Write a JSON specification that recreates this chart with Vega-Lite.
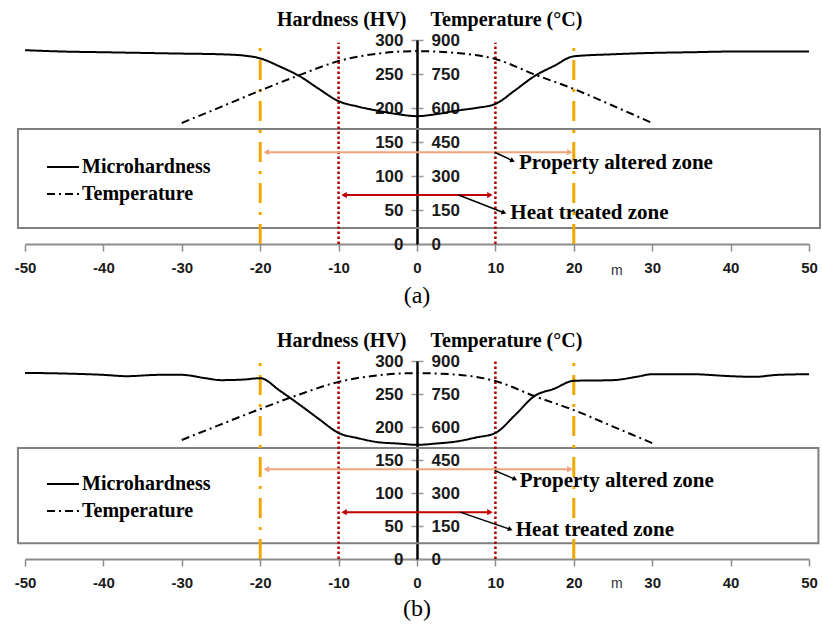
{
  "$schema": "https://vega.github.io/schema/vega-lite/v6.json",
  "background": "white",
  "padding": {"left": 14, "top": 9, "right": 0, "bottom": 0},
  "config": {"view": {"stroke": null}, "axis": {"grid": false, "labelOverlap": false}},
  "spacing": 117,
  "bounds": "flush",
  "resolve": {"scale": {"strokeDash": "independent"}, "legend": {"strokeDash": "independent"}},
  "vconcat": [
    {
      "width": 784,
      "height": 204,
      "title": {"text": "(a)", "orient": "bottom", "font": "Liberation Serif", "fontSize": 24, "fontWeight": "normal", "color": "black", "offset": 6},
      "layer": [
        {
          "layer": [
            {
              "data": {"values": [{"x": -50.9, "x2": 51.4, "y": 23.5, "y2": 169}]},
              "mark": {"type": "rect", "fillOpacity": 0, "stroke": "#808080", "strokeWidth": 2},
              "encoding": {
                "x": {"field": "x", "type": "quantitative", "scale": {"domain": [-50, 50], "nice": false, "zero": false},
                  "axis": {"orient": "bottom", "values": [-50, -40, -30, -20, -10, 0, 10, 20, 30, 40, 50], "tickCount": 11, "labelExpr": "toString(datum.value)", "labelFlush": false, "labelOverlap": false, "title": null, "domainColor": "#8c8c8c", "domainWidth": 2, "tickColor": "#8c8c8c", "tickSize": 7, "tickWidth": 1.5, "labelPadding": 9, "labelFont": "Liberation Sans", "labelFontSize": 15, "labelFontWeight": "bold", "labelColor": "#1a1a1a"}},
                "x2": {"field": "x2"},
                "y": {"field": "y", "type": "quantitative", "scale": {"domain": [0, 300], "nice": false, "zero": false},
                  "axis": {"orient": "left", "offset": -392, "values": [0, 50, 100, 150, 200, 250, 300], "tickCount": 7, "labelOverlap": false, "labelFlush": false, "title": "Hardness (HV)", "titleAngle": 0, "titleX": -11, "titleY": -21, "titleAlign": "right", "titleBaseline": "middle", "titleFont": "Liberation Serif", "titleFontSize": 20, "titleFontWeight": "bold", "titleColor": "black", "domainColor": "black", "domainWidth": 2, "tickColor": "#999999", "tickSize": 6, "tickWidth": 1.5, "labelPadding": 8, "labelFont": "Liberation Sans", "labelFontSize": 17, "labelFontWeight": "bold", "labelColor": "#1a1a1a"}},
                "y2": {"field": "y2"}
              }
            },
            {
              "data": {"values": [{"x": -20}, {"x": 20}]},
              "mark": {"type": "rule", "color": "#F0A800", "strokeWidth": 3, "strokeDash": [20, 9, 3, 9]},
              "encoding": {
                "x": {"field": "x", "type": "quantitative"},
                "y": {"datum": 0, "type": "quantitative"},
                "y2": {"datum": 295}
              }
            },
            {
              "data": {"values": [{"x": -10}, {"x": 10}]},
              "mark": {"type": "rule", "color": "#B00000", "strokeWidth": 2.5, "strokeDash": [2.5, 2.5]},
              "encoding": {
                "x": {"field": "x", "type": "quantitative"},
                "y": {"datum": 0, "type": "quantitative"},
                "y2": {"datum": 296}
              }
            },
            {
              "data": {"values": [{"x": -19.4, "x2": 19.6, "y": 135}]},
              "mark": {"type": "rule", "color": "#F0A47C", "strokeWidth": 2},
              "encoding": {
                "x": {"field": "x", "type": "quantitative"},
                "x2": {"field": "x2"},
                "y": {"field": "y", "type": "quantitative"}
              }
            },
            {
              "data": {"values": [{"x": -19.2, "y": 135}]},
              "mark": {"type": "point", "shape": "triangle-left", "filled": true, "color": "#F0A47C", "size": 40, "opacity": 1},
              "encoding": {"x": {"field": "x", "type": "quantitative"}, "y": {"field": "y", "type": "quantitative"}}
            },
            {
              "data": {"values": [{"x": 19.5, "y": 135}]},
              "mark": {"type": "point", "shape": "triangle-right", "filled": true, "color": "#F0A47C", "size": 40, "opacity": 1},
              "encoding": {"x": {"field": "x", "type": "quantitative"}, "y": {"field": "y", "type": "quantitative"}}
            },
            {
              "data": {"values": [{"x": -9.4, "x2": 9.4, "y": 72}]},
              "mark": {"type": "rule", "color": "#C00000", "strokeWidth": 2},
              "encoding": {
                "x": {"field": "x", "type": "quantitative"},
                "x2": {"field": "x2"},
                "y": {"field": "y", "type": "quantitative"}
              }
            },
            {
              "data": {"values": [{"x": -9.3, "y": 72}]},
              "mark": {"type": "point", "shape": "triangle-left", "filled": true, "color": "#C00000", "size": 40, "opacity": 1},
              "encoding": {"x": {"field": "x", "type": "quantitative"}, "y": {"field": "y", "type": "quantitative"}}
            },
            {
              "data": {"values": [{"x": 9.3, "y": 72}]},
              "mark": {"type": "point", "shape": "triangle-right", "filled": true, "color": "#C00000", "size": 40, "opacity": 1},
              "encoding": {"x": {"field": "x", "type": "quantitative"}, "y": {"field": "y", "type": "quantitative"}}
            },
            {
              "data": {"values": [{"x": 9.9, "y": 135, "x2": 12.2, "y2": 122.5}, {"x": 5.3, "y": 72, "x2": 11.1, "y2": 46}]},
              "mark": {"type": "rule", "color": "black", "strokeWidth": 1.5},
              "encoding": {
                "x": {"field": "x", "type": "quantitative"},
                "y": {"field": "y", "type": "quantitative"},
                "x2": {"field": "x2"},
                "y2": {"field": "y2"}
              }
            },
            {
              "data": {"values": [{"x": 12.2, "y": 122.5}]},
              "mark": {"type": "point", "shape": "triangle-right", "filled": true, "color": "black", "size": 30, "opacity": 1, "angle": 25},
              "encoding": {"x": {"field": "x", "type": "quantitative"}, "y": {"field": "y", "type": "quantitative"}}
            },
            {
              "data": {"values": [{"x": 11.1, "y": 46}]},
              "mark": {"type": "point", "shape": "triangle-right", "filled": true, "color": "black", "size": 30, "opacity": 1, "angle": 21},
              "encoding": {"x": {"field": "x", "type": "quantitative"}, "y": {"field": "y", "type": "quantitative"}}
            },
            {
              "data": {"values": [{"x": 13.0, "y": 119, "label": "Property altered zone"}, {"x": 11.9, "y": 45, "label": "Heat treated zone"}]},
              "mark": {"type": "text", "align": "left", "baseline": "middle", "font": "Liberation Serif", "fontSize": 21, "fontWeight": "bold", "color": "black"},
              "encoding": {
                "x": {"field": "x", "type": "quantitative"},
                "y": {"field": "y", "type": "quantitative"},
                "text": {"field": "label"}
              }
            },
            {
              "data": {"values": [{"x": 25.5, "y": -40, "label": "m"}]},
              "mark": {"type": "text", "align": "center", "baseline": "middle", "font": "Liberation Sans", "fontSize": 14, "color": "#333333"},
              "encoding": {
                "x": {"field": "x", "type": "quantitative"},
                "y": {"field": "y", "type": "quantitative"},
                "text": {"field": "label"}
              }
            },
            {
              "data": {"values": [
                {"x": -50, "hv": 285, "s": "Microhardness"}, {"x": -45, "hv": 283, "s": "Microhardness"}, {"x": -40, "hv": 282, "s": "Microhardness"},
                {"x": -35, "hv": 281, "s": "Microhardness"}, {"x": -30, "hv": 280, "s": "Microhardness"}, {"x": -25, "hv": 279, "s": "Microhardness"},
                {"x": -22, "hv": 277, "s": "Microhardness"}, {"x": -20, "hv": 273, "s": "Microhardness"}, {"x": -17.5, "hv": 261, "s": "Microhardness"},
                {"x": -15, "hv": 247, "s": "Microhardness"}, {"x": -12.5, "hv": 228, "s": "Microhardness"}, {"x": -10, "hv": 210, "s": "Microhardness"},
                {"x": -7.5, "hv": 202, "s": "Microhardness"}, {"x": -5, "hv": 196, "s": "Microhardness"}, {"x": -2.5, "hv": 191, "s": "Microhardness"},
                {"x": 0, "hv": 188, "s": "Microhardness"}, {"x": 2.5, "hv": 191, "s": "Microhardness"}, {"x": 5, "hv": 196, "s": "Microhardness"},
                {"x": 7.5, "hv": 200, "s": "Microhardness"}, {"x": 10, "hv": 206, "s": "Microhardness"}, {"x": 12.5, "hv": 226, "s": "Microhardness"},
                {"x": 15, "hv": 247, "s": "Microhardness"}, {"x": 17.5, "hv": 262, "s": "Microhardness"}, {"x": 20, "hv": 276, "s": "Microhardness"},
                {"x": 25, "hv": 279, "s": "Microhardness"}, {"x": 30, "hv": 281, "s": "Microhardness"}, {"x": 35, "hv": 282, "s": "Microhardness"},
                {"x": 40, "hv": 283, "s": "Microhardness"}, {"x": 45, "hv": 283, "s": "Microhardness"}, {"x": 50, "hv": 283, "s": "Microhardness"}
              ]},
              "mark": {"type": "line", "color": "black", "strokeWidth": 2, "interpolate": "monotone"},
              "encoding": {
                "x": {"field": "x", "type": "quantitative"},
                "y": {"field": "hv", "type": "quantitative"},
                "strokeDash": {"field": "s", "type": "nominal", "scale": {"domain": ["Microhardness", "Temperature"], "range": [[1, 0], [8, 4, 2, 4]]},
                  "legend": {"orient": "none", "legendX": 21, "legendY": 110, "title": null, "padding": 0, "symbolType": "stroke", "symbolSize": 1024, "symbolStrokeWidth": 2, "symbolStrokeColor": "black", "labelFont": "Liberation Serif", "labelFontSize": 20, "labelFontWeight": "bold", "labelColor": "black", "rowPadding": -4, "labelOffset": 2}}
              }
            }
          ]
        },
        {
          "data": {"values": [
            {"x": -30, "t": 534, "s": "Temperature"}, {"x": -25, "t": 605, "s": "Temperature"}, {"x": -20, "t": 677, "s": "Temperature"},
            {"x": -15, "t": 745, "s": "Temperature"}, {"x": -10, "t": 807, "s": "Temperature"}, {"x": -5, "t": 840, "s": "Temperature"},
            {"x": 0, "t": 851, "s": "Temperature"}, {"x": 5, "t": 843, "s": "Temperature"}, {"x": 10, "t": 816, "s": "Temperature"},
            {"x": 15, "t": 748, "s": "Temperature"}, {"x": 20, "t": 684, "s": "Temperature"}, {"x": 25, "t": 610, "s": "Temperature"},
            {"x": 30, "t": 534, "s": "Temperature"}
          ]},
          "mark": {"type": "line", "color": "black", "strokeWidth": 2, "interpolate": "monotone"},
          "encoding": {
            "x": {"field": "x", "type": "quantitative"},
            "y": {"field": "t", "type": "quantitative", "scale": {"domain": [0, 900], "nice": false, "zero": false},
              "axis": {"orient": "right", "offset": -392, "values": [0, 150, 300, 450, 600, 750, 900], "tickCount": 7, "labelOverlap": false, "labelFlush": false, "title": "Temperature (°C)", "titleAngle": 0, "titleX": 13, "titleY": -21, "titleAlign": "left", "titleBaseline": "middle", "titleFont": "Liberation Serif", "titleFontSize": 20, "titleFontWeight": "bold", "titleColor": "black", "domainColor": "black", "domainWidth": 2, "tickColor": "#999999", "tickSize": 6, "tickWidth": 1.5, "labelPadding": 8, "labelFont": "Liberation Sans", "labelFontSize": 17, "labelFontWeight": "bold", "labelColor": "#1a1a1a"}},
            "strokeDash": {"field": "s", "type": "nominal", "scale": {"domain": ["Microhardness", "Temperature"], "range": [[1, 0], [8, 4, 2, 4]]},
              "legend": {"orient": "none", "legendX": 21, "legendY": 110, "title": null, "padding": 0, "symbolType": "stroke", "symbolSize": 1024, "symbolStrokeWidth": 2, "symbolStrokeColor": "black", "labelFont": "Liberation Serif", "labelFontSize": 20, "labelFontWeight": "bold", "labelColor": "black", "rowPadding": -4, "labelOffset": 2}}
          }
        }
      ],
      "resolve": {"scale": {"y": "independent"}}
    },
    {
      "width": 784,
      "height": 198,
      "title": {"text": "(b)", "orient": "bottom", "font": "Liberation Serif", "fontSize": 24, "fontWeight": "normal", "color": "black", "offset": 6},
      "layer": [
        {
          "layer": [
            {
              "data": {"values": [{"x": -50.9, "x2": 51.2, "y": 24, "y2": 168}]},
              "mark": {"type": "rect", "fillOpacity": 0, "stroke": "#808080", "strokeWidth": 2},
              "encoding": {
                "x": {"field": "x", "type": "quantitative", "scale": {"domain": [-50, 50], "nice": false, "zero": false},
                  "axis": {"orient": "bottom", "values": [-50, -40, -30, -20, -10, 0, 10, 20, 30, 40, 50], "tickCount": 11, "labelExpr": "toString(datum.value)", "labelFlush": false, "labelOverlap": false, "title": null, "domainColor": "#8c8c8c", "domainWidth": 2, "tickColor": "#8c8c8c", "tickSize": 7, "tickWidth": 1.5, "labelPadding": 9, "labelFont": "Liberation Sans", "labelFontSize": 15, "labelFontWeight": "bold", "labelColor": "#1a1a1a"}},
                "x2": {"field": "x2"},
                "y": {"field": "y", "type": "quantitative", "scale": {"domain": [0, 300], "nice": false, "zero": false},
                  "axis": {"orient": "left", "offset": -392, "values": [0, 50, 100, 150, 200, 250, 300], "tickCount": 7, "labelOverlap": false, "labelFlush": false, "title": "Hardness (HV)", "titleAngle": 0, "titleX": -11, "titleY": -21, "titleAlign": "right", "titleBaseline": "middle", "titleFont": "Liberation Serif", "titleFontSize": 20, "titleFontWeight": "bold", "titleColor": "black", "domainColor": "black", "domainWidth": 2, "tickColor": "#999999", "tickSize": 6, "tickWidth": 1.5, "labelPadding": 8, "labelFont": "Liberation Sans", "labelFontSize": 17, "labelFontWeight": "bold", "labelColor": "#1a1a1a"}},
                "y2": {"field": "y2"}
              }
            },
            {
              "data": {"values": [{"x": -20}, {"x": 20}]},
              "mark": {"type": "rule", "color": "#F0A800", "strokeWidth": 3, "strokeDash": [20, 9, 3, 9]},
              "encoding": {
                "x": {"field": "x", "type": "quantitative"},
                "y": {"datum": 0, "type": "quantitative"},
                "y2": {"datum": 299}
              }
            },
            {
              "data": {"values": [{"x": -10}, {"x": 10}]},
              "mark": {"type": "rule", "color": "#B00000", "strokeWidth": 2.5, "strokeDash": [2.5, 2.5]},
              "encoding": {
                "x": {"field": "x", "type": "quantitative"},
                "y": {"datum": 0, "type": "quantitative"},
                "y2": {"datum": 300}
              }
            },
            {
              "data": {"values": [{"x": -19.4, "x2": 19.6, "y": 136}]},
              "mark": {"type": "rule", "color": "#F0A47C", "strokeWidth": 2},
              "encoding": {
                "x": {"field": "x", "type": "quantitative"},
                "x2": {"field": "x2"},
                "y": {"field": "y", "type": "quantitative"}
              }
            },
            {
              "data": {"values": [{"x": -19.2, "y": 136}]},
              "mark": {"type": "point", "shape": "triangle-left", "filled": true, "color": "#F0A47C", "size": 40, "opacity": 1},
              "encoding": {"x": {"field": "x", "type": "quantitative"}, "y": {"field": "y", "type": "quantitative"}}
            },
            {
              "data": {"values": [{"x": 19.5, "y": 136}]},
              "mark": {"type": "point", "shape": "triangle-right", "filled": true, "color": "#F0A47C", "size": 40, "opacity": 1},
              "encoding": {"x": {"field": "x", "type": "quantitative"}, "y": {"field": "y", "type": "quantitative"}}
            },
            {
              "data": {"values": [{"x": -9.4, "x2": 9.4, "y": 71}]},
              "mark": {"type": "rule", "color": "#C00000", "strokeWidth": 2},
              "encoding": {
                "x": {"field": "x", "type": "quantitative"},
                "x2": {"field": "x2"},
                "y": {"field": "y", "type": "quantitative"}
              }
            },
            {
              "data": {"values": [{"x": -9.3, "y": 71}]},
              "mark": {"type": "point", "shape": "triangle-left", "filled": true, "color": "#C00000", "size": 40, "opacity": 1},
              "encoding": {"x": {"field": "x", "type": "quantitative"}, "y": {"field": "y", "type": "quantitative"}}
            },
            {
              "data": {"values": [{"x": 9.3, "y": 71}]},
              "mark": {"type": "point", "shape": "triangle-right", "filled": true, "color": "#C00000", "size": 40, "opacity": 1},
              "encoding": {"x": {"field": "x", "type": "quantitative"}, "y": {"field": "y", "type": "quantitative"}}
            },
            {
              "data": {"values": [{"x": 9.9, "y": 134, "x2": 12.5, "y2": 121}, {"x": 5.5, "y": 71, "x2": 11.9, "y2": 45}]},
              "mark": {"type": "rule", "color": "black", "strokeWidth": 1.5},
              "encoding": {
                "x": {"field": "x", "type": "quantitative"},
                "y": {"field": "y", "type": "quantitative"},
                "x2": {"field": "x2"},
                "y2": {"field": "y2"}
              }
            },
            {
              "data": {"values": [{"x": 12.5, "y": 121}]},
              "mark": {"type": "point", "shape": "triangle-right", "filled": true, "color": "black", "size": 30, "opacity": 1, "angle": 25},
              "encoding": {"x": {"field": "x", "type": "quantitative"}, "y": {"field": "y", "type": "quantitative"}}
            },
            {
              "data": {"values": [{"x": 11.9, "y": 45}]},
              "mark": {"type": "point", "shape": "triangle-right", "filled": true, "color": "black", "size": 30, "opacity": 1, "angle": 21},
              "encoding": {"x": {"field": "x", "type": "quantitative"}, "y": {"field": "y", "type": "quantitative"}}
            },
            {
              "data": {"values": [{"x": 13.1, "y": 118, "label": "Property altered zone"}, {"x": 12.6, "y": 44, "label": "Heat treated zone"}]},
              "mark": {"type": "text", "align": "left", "baseline": "middle", "font": "Liberation Serif", "fontSize": 21, "fontWeight": "bold", "color": "black"},
              "encoding": {
                "x": {"field": "x", "type": "quantitative"},
                "y": {"field": "y", "type": "quantitative"},
                "text": {"field": "label"}
              }
            },
            {
              "data": {"values": [{"x": 25.5, "y": -38, "label": "m"}]},
              "mark": {"type": "text", "align": "center", "baseline": "middle", "font": "Liberation Sans", "fontSize": 14, "color": "#333333"},
              "encoding": {
                "x": {"field": "x", "type": "quantitative"},
                "y": {"field": "y", "type": "quantitative"},
                "text": {"field": "label"}
              }
            },
            {
              "data": {"values": [
                {"x": -50, "hv": 282, "s": "Microhardness"}, {"x": -45, "hv": 281, "s": "Microhardness"}, {"x": -40, "hv": 279, "s": "Microhardness"},
                {"x": -37, "hv": 277, "s": "Microhardness"}, {"x": -33, "hv": 279, "s": "Microhardness"}, {"x": -30, "hv": 279, "s": "Microhardness"},
                {"x": -27, "hv": 274, "s": "Microhardness"}, {"x": -25, "hv": 271, "s": "Microhardness"}, {"x": -22, "hv": 272, "s": "Microhardness"},
                {"x": -20, "hv": 274, "s": "Microhardness"}, {"x": -17.5, "hv": 255, "s": "Microhardness"}, {"x": -15, "hv": 234, "s": "Microhardness"},
                {"x": -12.5, "hv": 212, "s": "Microhardness"}, {"x": -10, "hv": 191, "s": "Microhardness"}, {"x": -7.5, "hv": 183, "s": "Microhardness"},
                {"x": -5, "hv": 177, "s": "Microhardness"}, {"x": -2.5, "hv": 175, "s": "Microhardness"}, {"x": 0, "hv": 173, "s": "Microhardness"},
                {"x": 2.5, "hv": 175, "s": "Microhardness"}, {"x": 5, "hv": 178, "s": "Microhardness"}, {"x": 7.5, "hv": 184, "s": "Microhardness"},
                {"x": 10, "hv": 191, "s": "Microhardness"}, {"x": 12.5, "hv": 218, "s": "Microhardness"}, {"x": 15, "hv": 247, "s": "Microhardness"},
                {"x": 17.5, "hv": 258, "s": "Microhardness"}, {"x": 20, "hv": 270, "s": "Microhardness"}, {"x": 25, "hv": 271, "s": "Microhardness"},
                {"x": 28, "hv": 276, "s": "Microhardness"}, {"x": 30, "hv": 280, "s": "Microhardness"}, {"x": 35, "hv": 280, "s": "Microhardness"},
                {"x": 40, "hv": 277, "s": "Microhardness"}, {"x": 43, "hv": 276, "s": "Microhardness"}, {"x": 46, "hv": 279, "s": "Microhardness"},
                {"x": 50, "hv": 280, "s": "Microhardness"}
              ]},
              "mark": {"type": "line", "color": "black", "strokeWidth": 2, "interpolate": "monotone"},
              "encoding": {
                "x": {"field": "x", "type": "quantitative"},
                "y": {"field": "hv", "type": "quantitative"},
                "strokeDash": {"field": "s", "type": "nominal", "scale": {"domain": ["Microhardness", "Temperature"], "range": [[1, 0], [8, 4, 2, 4]]},
                  "legend": {"orient": "none", "legendX": 21, "legendY": 106, "title": null, "padding": 0, "symbolType": "stroke", "symbolSize": 1024, "symbolStrokeWidth": 2, "symbolStrokeColor": "black", "labelFont": "Liberation Serif", "labelFontSize": 20, "labelFontWeight": "bold", "labelColor": "black", "rowPadding": -5, "labelOffset": 2}}
              }
            }
          ]
        },
        {
          "data": {"values": [
            {"x": -30, "t": 541, "s": "Temperature"}, {"x": -25, "t": 612, "s": "Temperature"}, {"x": -20, "t": 682, "s": "Temperature"},
            {"x": -15, "t": 748, "s": "Temperature"}, {"x": -10, "t": 805, "s": "Temperature"}, {"x": -5, "t": 835, "s": "Temperature"},
            {"x": 0, "t": 845, "s": "Temperature"}, {"x": 5, "t": 838, "s": "Temperature"}, {"x": 10, "t": 809, "s": "Temperature"},
            {"x": 15, "t": 740, "s": "Temperature"}, {"x": 20, "t": 677, "s": "Temperature"}, {"x": 25, "t": 602, "s": "Temperature"},
            {"x": 30, "t": 527, "s": "Temperature"}
          ]},
          "mark": {"type": "line", "color": "black", "strokeWidth": 2, "interpolate": "monotone"},
          "encoding": {
            "x": {"field": "x", "type": "quantitative"},
            "y": {"field": "t", "type": "quantitative", "scale": {"domain": [0, 900], "nice": false, "zero": false},
              "axis": {"orient": "right", "offset": -392, "values": [0, 150, 300, 450, 600, 750, 900], "tickCount": 7, "labelOverlap": false, "labelFlush": false, "title": "Temperature (°C)", "titleAngle": 0, "titleX": 13, "titleY": -21, "titleAlign": "left", "titleBaseline": "middle", "titleFont": "Liberation Serif", "titleFontSize": 20, "titleFontWeight": "bold", "titleColor": "black", "domainColor": "black", "domainWidth": 2, "tickColor": "#999999", "tickSize": 6, "tickWidth": 1.5, "labelPadding": 8, "labelFont": "Liberation Sans", "labelFontSize": 17, "labelFontWeight": "bold", "labelColor": "#1a1a1a"}},
            "strokeDash": {"field": "s", "type": "nominal", "scale": {"domain": ["Microhardness", "Temperature"], "range": [[1, 0], [8, 4, 2, 4]]},
              "legend": {"orient": "none", "legendX": 21, "legendY": 106, "title": null, "padding": 0, "symbolType": "stroke", "symbolSize": 1024, "symbolStrokeWidth": 2, "symbolStrokeColor": "black", "labelFont": "Liberation Serif", "labelFontSize": 20, "labelFontWeight": "bold", "labelColor": "black", "rowPadding": -5, "labelOffset": 2}}
          }
        }
      ],
      "resolve": {"scale": {"y": "independent"}}
    }
  ]
}
